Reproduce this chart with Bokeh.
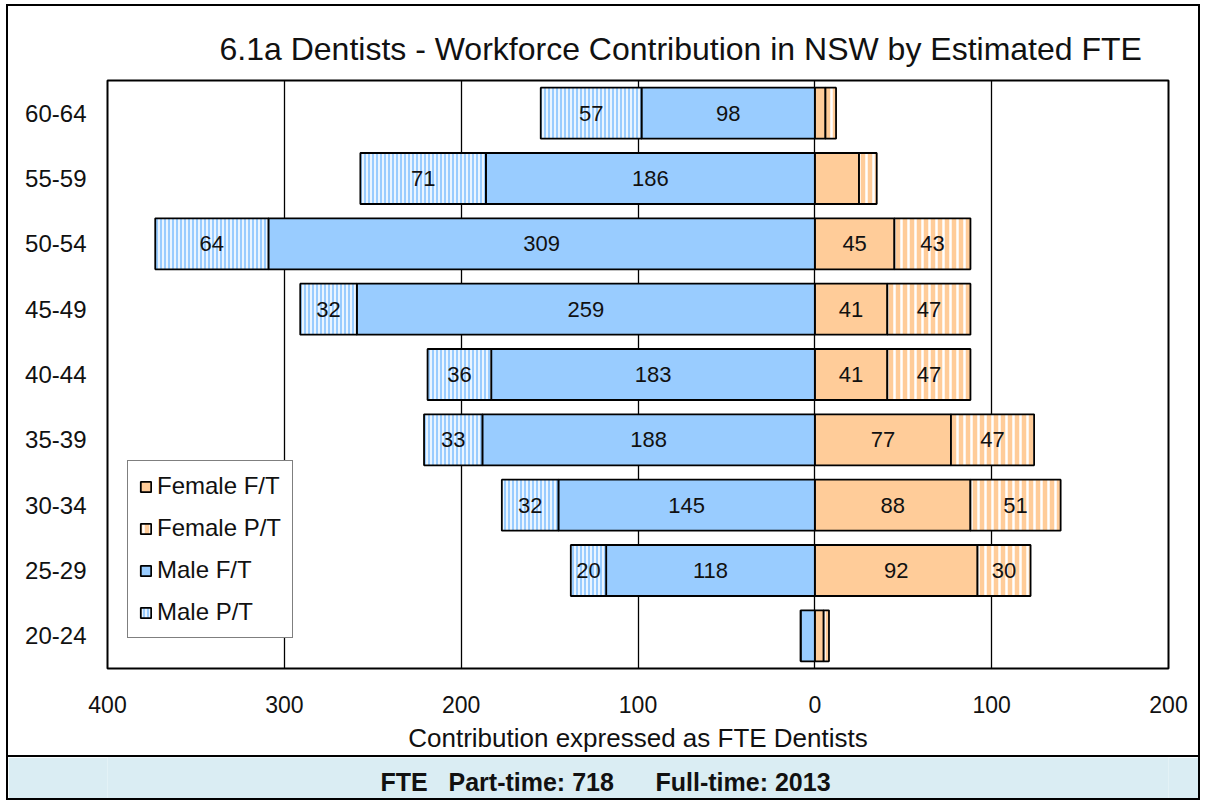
from bokeh.plotting import figure
from bokeh.models import (ColumnDataSource, Range1d, FactorRange, FixedTicker, Legend, LegendItem,
                          Title, Label)
from bokeh.layouts import column
from bokeh.embed import file_html
from bokeh.resources import INLINE
from bokeh.core.properties import value

# ---------------- data ----------------
age_groups = ["20-24", "25-29", "30-34", "35-39", "40-44", "45-49", "50-54", "55-59", "60-64"]
male_ft = [8, 118, 145, 188, 183, 259, 309, 186, 98]
male_pt = [0, 20, 32, 33, 36, 32, 64, 71, 57]
female_ft = [5, 92, 88, 77, 41, 41, 45, 25, 6]
female_pt = [3, 30, 51, 47, 47, 47, 43, 10, 6]
unlabelled_groups = {"male": ["20-24"], "female": ["20-24", "55-59", "60-64"]}
x_ticks = [-400, -300, -200, -100, 0, 100, 200]
title_text = "6.1a Dentists - Workforce Contribution in NSW by Estimated FTE"
x_label = "Contribution expressed as FTE Dentists"
NB = "\u00a0"
footer_text = "FTE" + NB * 3 + "Part-time: 718" + NB * 6 + "Full-time: 2013"

FONT = "Liberation Sans"
BLUE = "#99ccff"
ORANGE = "#ffcc99"

# ---------------- sources ----------------
mft_left = [-v for v in male_ft]
mpt_left = [-(a + b) for a, b in zip(male_ft, male_pt)]
fpt_right = [a + b for a, b in zip(female_ft, female_pt)]

src = ColumnDataSource(dict(
    y=age_groups,
    mft_l=mft_left, mft_r=[0] * len(age_groups),
    mpt_l=mpt_left, mpt_r=mft_left,
    fft_l=[0] * len(age_groups), fft_r=female_ft,
    fpt_l=female_ft, fpt_r=fpt_right,
))

W = 1190
p = figure(width=W, height=749, output_backend="svg", toolbar_location=None,
           x_range=Range1d(-400, 200), y_range=FactorRange(factors=age_groups, range_padding=0),
           min_border_left=99, min_border_right=30, min_border_top=74, min_border_bottom=87,
           tools="")
p.outline_line_color = "black"
p.outline_line_width = 2
p.background_fill_color = "white"
p.border_fill_color = "white"

BH = 0.78
r_fft = p.hbar(y="y", left="fft_l", right="fft_r", height=BH, source=src,
               fill_color=ORANGE, line_color="black", line_width=1.8)
r_fpt = p.hbar(y="y", left="fpt_l", right="fpt_r", height=BH, source=src,
               fill_color=ORANGE, line_color="black", line_width=1.8,
               hatch_pattern="vertical_line", hatch_color="white", hatch_scale=7, hatch_weight=2.5)
r_mft = p.hbar(y="y", left="mft_l", right="mft_r", height=BH, source=src,
               fill_color=BLUE, line_color="black", line_width=1.8)
r_mpt = p.hbar(y="y", left="mpt_l", right="mpt_r", height=BH, source=src,
               fill_color=BLUE, line_color="black", line_width=1.8,
               hatch_pattern="vertical_line", hatch_color="white", hatch_scale=4, hatch_weight=1.6)

# ---------------- segment labels ----------------
lx, ly, lt = [], [], []
for i, g in enumerate(age_groups):
    segs = []
    if g not in unlabelled_groups["male"]:
        segs += [(mpt_left[i], mft_left[i], male_pt[i]), (mft_left[i], 0, male_ft[i])]
    if g not in unlabelled_groups["female"]:
        segs += [(0, female_ft[i], female_ft[i]), (female_ft[i], fpt_right[i], female_pt[i])]
    for a, b, v in segs:
        if v > 0:
            lx.append((a + b) / 2)
            ly.append(g)
            lt.append(str(v))
lsrc = ColumnDataSource(dict(x=lx, y=ly, t=lt))
p.text(x="x", y="y", text="t", source=lsrc, text_align="center", text_baseline="middle",
       text_font=value(FONT), text_font_size="22px", text_color="#111111")

# ---------------- axes / grid ----------------
p.xaxis.ticker = FixedTicker(ticks=x_ticks)
p.xaxis.major_label_overrides = {t: str(abs(t)) for t in x_ticks}
p.xaxis.axis_line_color = None
p.xaxis.major_tick_line_color = None
p.xaxis.minor_tick_line_color = None
p.xaxis.major_tick_out = 0
p.xaxis.major_tick_in = 0
p.xaxis.major_label_standoff = 27
p.xaxis.major_label_text_font = FONT
p.xaxis.major_label_text_font_size = "23px"
p.xaxis.major_label_text_color = "#111111"
p.xaxis.axis_label = x_label
p.xaxis.axis_label_text_font = FONT
p.xaxis.axis_label_text_font_size = "26px"
p.xaxis.axis_label_text_font_style = "normal"
p.xaxis.axis_label_text_color = "#111111"
p.xaxis.axis_label_standoff = 7

p.yaxis.axis_line_color = None
p.yaxis.major_tick_line_color = None
p.yaxis.minor_tick_line_color = None
p.yaxis.major_tick_out = 0
p.yaxis.major_tick_in = 0
p.yaxis.major_label_standoff = 21
p.yaxis.major_label_text_font = FONT
p.yaxis.major_label_text_font_size = "24px"
p.yaxis.major_label_text_color = "#111111"

p.xgrid.grid_line_color = "black"
p.xgrid.grid_line_width = 1.3
p.ygrid.grid_line_color = None

# ---------------- title ----------------
t = Title(text=title_text, align="left", offset=112, standoff=27,
          text_font=FONT, text_font_size="32px", text_font_style="normal", text_color="#111111")
p.add_layout(t, "above")

# ---------------- legend ----------------
legend = Legend(items=[
    LegendItem(label="Female F/T", renderers=[r_fft]),
    LegendItem(label="Female P/T", renderers=[r_fpt]),
    LegendItem(label="Male F/T", renderers=[r_mft]),
    LegendItem(label="Male P/T", renderers=[r_mpt]),
], location=(20, 30))
legend.glyph_width = 13
legend.glyph_height = 13
legend.label_text_font = FONT
legend.label_text_font_size = "24px"
legend.label_text_color = "#111111"
legend.label_standoff = 5
legend.label_height = 22
legend.spacing = 14
legend.padding = 11
legend.margin = 0
legend.border_line_color = "black"
legend.border_line_width = 1.8
legend.background_fill_color = "white"
legend.background_fill_alpha = 1
p.add_layout(legend, "center")

# ---------------- footer ----------------
FOOT_BG = "#daedf3"
f = figure(width=W, height=43, output_backend="svg", toolbar_location=None,
           x_range=Range1d(107, 1168), y_range=Range1d(0, 1), tools="",
           min_border_left=0, min_border_right=0, min_border_top=0, min_border_bottom=0,
           styles={"border-top": "2px solid black"})
f.axis.visible = False
f.grid.visible = False
f.background_fill_color = FOOT_BG
f.border_fill_color = FOOT_BG
f.outline_line_color = None
f.add_layout(Label(x=605, y=0.42, text=footer_text, text_align="center", text_baseline="middle",
                   text_font=FONT, text_font_size="25px", text_font_style="bold", text_color="#111111"))

layout = column(p, f, spacing=0, margin=(4, 0, 0, 6), styles={"border": "2px solid black"})

open("out.html", "w").write(file_html(layout, INLINE))
